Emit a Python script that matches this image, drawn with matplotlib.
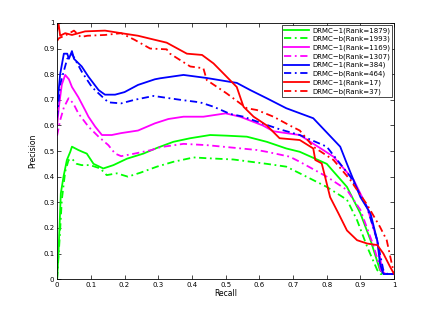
import numpy as np
import matplotlib
matplotlib.use("Agg")
import matplotlib.pyplot as plt

# precision / recall curves
green_1_r = [0, 0.004, 0.007, 0.011, 0.019, 0.029, 0.039, 0.044, 0.063, 0.075, 0.088, 0.108, 0.137, 0.167, 0.207, 0.256, 0.296, 0.345, 0.395, 0.454, 0.503, 0.563, 0.622, 0.68, 0.72, 0.80, 0.86, 0.90, 0.93, 0.958, 0.97, 1.0]
green_1_p = [0, 0.1, 0.2, 0.335, 0.40, 0.465, 0.497, 0.517, 0.504, 0.497, 0.49, 0.45, 0.432, 0.445, 0.47, 0.49, 0.512, 0.536, 0.55, 0.5625, 0.56, 0.556, 0.536, 0.51, 0.497, 0.45, 0.36, 0.256, 0.152, 0.035, 0.02, 0.02]

green_b_r = [0, 0.008, 0.014, 0.024, 0.034, 0.044, 0.058, 0.073, 0.098, 0.128, 0.147, 0.177, 0.21, 0.246, 0.296, 0.345, 0.405, 0.444, 0.523, 0.622, 0.68, 0.72, 0.80, 0.86, 0.89, 0.92, 0.95, 0.96, 1.0]
green_b_p = [0, 0.17, 0.31, 0.42, 0.465, 0.47, 0.45, 0.445, 0.445, 0.432, 0.406, 0.413, 0.40, 0.415, 0.439, 0.458, 0.475, 0.472, 0.467, 0.45, 0.439, 0.413, 0.36, 0.31, 0.23, 0.126, 0.035, 0.02, 0.02]

mag_1_r = [0, 0.005, 0.014, 0.024, 0.035, 0.044, 0.063, 0.083, 0.093, 0.113, 0.133, 0.162, 0.19, 0.24, 0.29, 0.33, 0.375, 0.434, 0.50, 0.543, 0.61, 0.642, 0.69, 0.72, 0.82, 0.88, 0.92, 0.95, 0.965, 0.975, 1.0]
mag_1_p = [0.6, 0.67, 0.76, 0.797, 0.78, 0.75, 0.71, 0.66, 0.634, 0.595, 0.5625, 0.5625, 0.57, 0.58, 0.608, 0.625, 0.634, 0.634, 0.647, 0.634, 0.60, 0.577, 0.568, 0.5625, 0.478, 0.387, 0.28, 0.15, 0.03, 0.02, 0.02]

mag_b_r = [0, 0.009, 0.02, 0.034, 0.048, 0.063, 0.093, 0.123, 0.152, 0.172, 0.19, 0.23, 0.28, 0.306, 0.375, 0.444, 0.523, 0.593, 0.622, 0.69, 0.72, 0.80, 0.86, 0.90, 0.94, 0.96, 0.97, 1.0]
mag_b_p = [0.56, 0.62, 0.67, 0.706, 0.686, 0.647, 0.595, 0.556, 0.523, 0.49, 0.48, 0.49, 0.504, 0.515, 0.528, 0.523, 0.513, 0.504, 0.497, 0.478, 0.458, 0.40, 0.348, 0.27, 0.126, 0.035, 0.02, 0.02]

blue_1_r = [0, 0.009, 0.02, 0.03, 0.035, 0.044, 0.05, 0.073, 0.093, 0.123, 0.142, 0.172, 0.2, 0.24, 0.29, 0.306, 0.375, 0.444, 0.513, 0.533, 0.573, 0.622, 0.68, 0.76, 0.84, 0.86, 0.90, 0.93, 0.95, 0.958, 0.968, 1.0]
blue_1_p = [0.67, 0.80, 0.88, 0.88, 0.86, 0.89, 0.86, 0.83, 0.79, 0.738, 0.72, 0.72, 0.73, 0.758, 0.78, 0.784, 0.797, 0.785, 0.77, 0.766, 0.738, 0.706, 0.667, 0.628, 0.517, 0.45, 0.32, 0.256, 0.15, 0.06, 0.02, 0.02]

blue_b_r = [0, 0.009, 0.03, 0.044, 0.073, 0.103, 0.123, 0.152, 0.19, 0.23, 0.286, 0.365, 0.424, 0.464, 0.513, 0.553, 0.593, 0.66, 0.72, 0.80, 0.87, 0.92, 0.95, 0.968, 0.98, 1.0]
blue_b_p = [0.63, 0.76, 0.86, 0.88, 0.81, 0.75, 0.725, 0.69, 0.686, 0.70, 0.715, 0.70, 0.69, 0.673, 0.645, 0.634, 0.615, 0.585, 0.5625, 0.517, 0.40, 0.28, 0.15, 0.035, 0.02, 0.02]

red_1_r = [0, 0.004, 0.009, 0.024, 0.044, 0.083, 0.142, 0.19, 0.24, 0.29, 0.325, 0.385, 0.43, 0.464, 0.503, 0.533, 0.553, 0.583, 0.622, 0.66, 0.72, 0.76, 0.766, 0.785, 0.795, 0.81, 0.835, 0.86, 0.89, 0.92, 0.95, 0.968, 0.988, 1.0]
red_1_p = [0.97, 1.0, 0.95, 0.96, 0.953, 0.967, 0.97, 0.96, 0.95, 0.934, 0.923, 0.88, 0.875, 0.842, 0.79, 0.75, 0.673, 0.634, 0.60, 0.55, 0.543, 0.51, 0.465, 0.452, 0.40, 0.32, 0.256, 0.19, 0.152, 0.139, 0.133, 0.10, 0.048, 0.02]

red_b_r = [0, 0.005, 0.03, 0.05, 0.07, 0.09, 0.142, 0.19, 0.23, 0.276, 0.325, 0.335, 0.395, 0.434, 0.444, 0.503, 0.543, 0.563, 0.593, 0.642, 0.69, 0.72, 0.76, 0.82, 0.87, 0.92, 0.958, 0.978, 0.993, 1.0]
red_b_p = [0.93, 0.94, 0.955, 0.97, 0.945, 0.95, 0.953, 0.96, 0.934, 0.90, 0.897, 0.88, 0.83, 0.823, 0.777, 0.725, 0.686, 0.667, 0.66, 0.634, 0.60, 0.58, 0.517, 0.465, 0.387, 0.29, 0.204, 0.152, 0.06, 0.02]

labels = ["DRMC\u22121(Rank=1879)", "DRMC\u2212b(Rank=1993)",
          "DRMC\u22121(Rank=1169)", "DRMC\u2212b(Rank=1307)",
          "DRMC\u22121(Rank=384)", "DRMC\u2212b(Rank=464)",
          "DRMC\u22121(Rank=17)", "DRMC\u2212b(Rank=37)"]

curves = [(green_1_r, green_1_p), (green_b_r, green_b_p),
          (mag_1_r, mag_1_p), (mag_b_r, mag_b_p),
          (blue_1_r, blue_1_p), (blue_b_r, blue_b_p),
          (red_1_r, red_1_p), (red_b_r, red_b_p)]
colors = ["#00ff00", "#00ff00", "#ff00ff", "#ff00ff",
          "#0000ff", "#0000ff", "#ff0000", "#ff0000"]
dashdot = (0, (4, 2, 1, 2))

fig = plt.figure(figsize=(4.36, 3.14), dpi=100)
ax = fig.add_axes([0.131, 0.111, 0.773, 0.816])

for i, (r, p) in enumerate(curves):
    ls = "-" if i % 2 == 0 else dashdot
    ax.plot(r, p, color=colors[i], linestyle=ls, linewidth=1.3, label=labels[i])

ax.set_xlim(0, 1)
ax.set_ylim(0, 1)
ticks = np.arange(0, 1.01, 0.1)
ticklabels = ["0", "0.1", "0.2", "0.3", "0.4", "0.5", "0.6", "0.7", "0.8", "0.9", "1"]
ax.set_xticks(ticks)
ax.set_xticklabels(ticklabels)
ax.set_yticks(ticks)
ax.set_yticklabels(ticklabels)
ax.tick_params(direction="in", top=True, right=True, labelsize=5, length=3, width=0.5, pad=2)
for s in ax.spines.values():
    s.set_linewidth(0.6)
ax.set_xlabel("Recall", fontsize=5.5, labelpad=1)
ax.set_ylabel("Precision", fontsize=5.5, labelpad=4)

leg = ax.legend(loc="upper right", fontsize=5, handlelength=3.5, labelspacing=0.32,
                borderaxespad=0.3, borderpad=0.3, handletextpad=0.5, fancybox=False,
                framealpha=1, edgecolor="black")
leg.get_frame().set_linewidth(0.5)

fig.savefig("out.png", dpi=100)
